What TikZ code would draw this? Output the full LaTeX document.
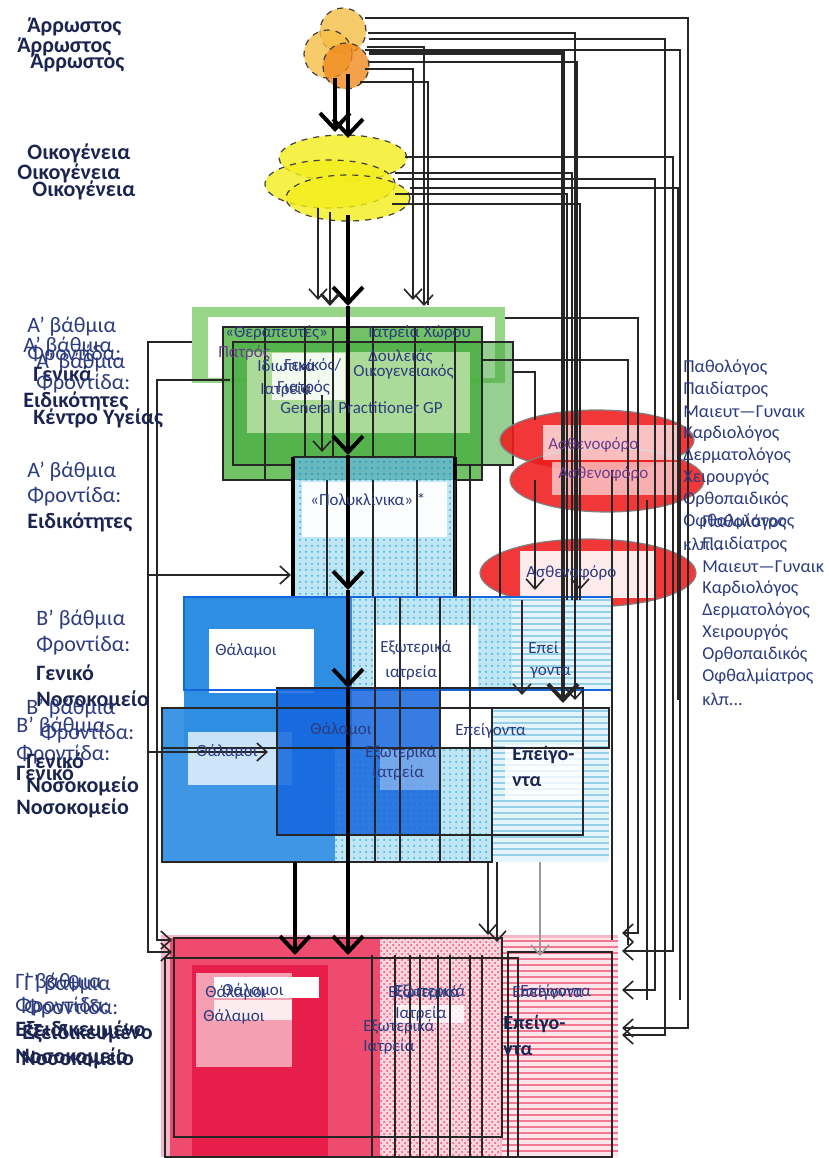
\documentclass[tikz,border=0pt]{standalone}
\usepackage{fontspec}
\setmainfont{Carlito}
\usetikzlibrary{arrows.meta,patterns,shapes.geometric}
\definecolor{navy}{HTML}{1B2550}
\definecolor{txtb}{HTML}{2D3C7E}
\definecolor{purp}{HTML}{6A3C8C}
\definecolor{orlite}{HTML}{F7BE45}
\definecolor{ordark}{HTML}{F08A1E}
\definecolor{yel}{HTML}{F4EE1C}
\definecolor{glite}{HTML}{8CD27A}
\definecolor{gmid}{HTML}{58B84A}
\definecolor{gdark}{HTML}{3EA83A}
\definecolor{gpale}{HTML}{B5E0A2}
\definecolor{bmid}{HTML}{2E8EE2}
\definecolor{bdark}{HTML}{1366DE}
\definecolor{blite}{HTML}{BFE6F5}
\definecolor{bdot}{HTML}{3FA9DA}
\definecolor{redel}{HTML}{F01C1C}
\definecolor{pinklt}{HTML}{F6B8C8}
\definecolor{pinkmd}{HTML}{EE4B6E}
\definecolor{crim}{HTML}{E81E4A}
\begin{document}
\begin{tikzpicture}[x=0.5pt,y=-0.5pt,
  lab/.style={anchor=west,inner sep=0pt,font=\fontsize{11}{13}\selectfont,text=txtb},
  labb/.style={anchor=west,inner sep=0pt,font=\fontsize{11}{13}\selectfont\bfseries,text=navy},
  lst/.style={anchor=west,inner sep=0pt,font=\fontsize{9.1}{11}\selectfont,text=txtb},
  inn/.style={anchor=west,inner sep=0pt,font=\fontsize{8.5}{10}\selectfont,text=txtb},
  innb/.style={anchor=west,inner sep=0pt,font=\fontsize{10}{12}\selectfont\bfseries,text=navy},
  ln/.style={draw=black!85,line width=0.8pt},
  lnl/.style={draw=black!40,line width=0.8pt},
  tk/.style={draw=black,line width=2.4pt},
  hv/.style={draw=black,line width=1.6pt},
  ar/.style={-{Straight Barb[length=5pt,width=9pt]}},
  ark/.style={-{Straight Barb[length=8pt,width=15pt,line width=2pt]}},
  circ/.style={circle,draw=black!75,dashed,line width=0.6pt,fill opacity=0.8,inner sep=0pt},
  ell/.style={ellipse,draw=black!75,dashed,line width=0.6pt,fill=yel,fill opacity=0.8,inner sep=0pt},
  rell/.style={ellipse,draw=black!50,line width=0.6pt,fill=redel,fill opacity=0.88,inner sep=0pt},
  frm/.style={draw=black!85,line width=0.9pt},
  bstripe/.style={draw=bdot!55,line width=0.7pt},
  pstripe/.style={draw=pinkmd!75,line width=0.8pt}
]
\useasboundingbox (0,0) rectangle (829,1158);
\fill[white] (0,0) rectangle (829,1158);

% ---------------- shapes: patient circles and family ellipses
\node[circ,fill=orlite,minimum size=23pt] (c1) at (343,31) {};
\node[circ,fill=orlite,minimum size=24pt] (c2) at (328,54) {};
\node[circ,fill=ordark,minimum size=23pt] (c3) at (346,66) {};
\node[ell,minimum width=64pt,minimum height=23pt] (y1) at (343,158) {};
\node[ell,minimum width=65pt,minimum height=24pt] (y2) at (330,184) {};
\node[ell,minimum width=62pt,minimum height=23pt] (y3) at (348,198) {};

% ---------------- green (primary care)
\fill[glite,opacity=0.9] (192,307) rectangle (505,383);
\fill[white] (208,317) rectangle (495,378);
\fill[gmid,opacity=0.85] (223,327) rectangle (482,480);
\fill[gdark,opacity=0.55] (233,342) rectangle (513,465);
\fill[gpale,opacity=0.9] (247,352) rectangle (470,433);
\fill[white,opacity=0.85] (272,353) rectangle (345,400);
\draw[frm] (223,327) rectangle (482,480);
\draw[frm] (233,342) rectangle (513,465);
\foreach \xx in {265,305,333,373,415,455} \draw[ln] (\xx,327) -- (\xx,480);

% ---------------- polyclinics
\path[preaction={fill=blite},pattern=dots,pattern color=bdot] (293,457) rectangle (455,608);
\fill[teal,opacity=0.45] (293,457) rectangle (455,480);
\fill[white,opacity=0.95] (302,482) rectangle (447,537);
\foreach \xx in {327,373,417} \draw[ln] (\xx,480) -- (\xx,608);
\draw[hv] (293,457) -- (293,608);
\draw[hv] (455,457) -- (455,608);
\draw[frm] (293,457) -- (455,457);

% ---------------- ambulances
\node[rell,minimum width=97pt,minimum height=30pt] (r1) at (597,440) {};
\node[rell,minimum width=97pt,minimum height=32pt] (r2) at (607,480) {};
\node[rell,minimum width=108pt,minimum height=34pt] (r3) at (588,573) {};
\fill[white,opacity=0.7] (543,425) rectangle (680,460);
\fill[white,opacity=0.6] (552,462) rectangle (680,495);
\fill[white,opacity=0.9] (520,551) rectangle (655,598);

% ---------------- blue (secondary care), layer 1
\fill[bmid] (184,597) rectangle (352,750);
\path[preaction={fill=blite},pattern=dots,pattern color=bdot] (352,597) rectangle (512,690);
\fill[blite!40] (512,597) rectangle (612,690);
\foreach \yy in {600,606,...,688} \draw[bstripe] (512,\yy) -- (612,\yy);
\fill[white] (209,629) rectangle (314,693);
\fill[white] (373,625) rectangle (478,699);
% layer 2
\fill[bmid,opacity=0.92] (162,708) rectangle (335,862);
\path[preaction={fill=blite},pattern=dots,pattern color=bdot] (335,748) rectangle (492,862);
\fill[blite!40] (492,708) rectangle (609,862);
\foreach \yy in {711,717,...,860} \draw[bstripe] (492,\yy) -- (609,\yy);
\fill[white,opacity=0.75] (188,732) rectangle (292,785);
\fill[bdark,opacity=0.85] (277,688) rectangle (441,835);
\fill[white,opacity=0.35] (380,748) rectangle (441,790);
\fill[white,opacity=0.8] (505,745) rectangle (583,800);
\draw[frm] (277,688) rectangle (583,835);
\draw[frm] (162,708) rectangle (609,748);
\draw[frm] (162,708) rectangle (492,862);
\draw[draw=bdark,line width=0.9pt] (184,597) rectangle (612,690);
\foreach \xx in {375,400,440,470} \draw[ln] (\xx,597) -- (\xx,862);

% ---------------- pink (tertiary care)
\fill[pinklt] (161,935) rectangle (618,1157);
\fill[pinkmd] (170,938) rectangle (380,1157);
\fill[crim] (192,965) rectangle (328,1157);
\path[preaction={fill=pinklt!60},pattern=crosshatch dots,pattern color=pinkmd] (380,938) rectangle (500,1157);
\fill[pinklt!35] (502,938) rectangle (618,1157);
\foreach \yy in {941,947,...,1156} \draw[pstripe] (502,\yy) -- (618,\yy);
\fill[pinkmd!40,opacity=0.85] (196,973) rectangle (292,1067);
\fill[white] (214,977) rectangle (319,998);
\fill[white,opacity=0.8] (214,1000) rectangle (292,1020);
\fill[white,opacity=0.8] (393,1005) rectangle (464,1023);
\draw[frm] (174,938) rectangle (502,1137);
\draw[frm] (165,958) rectangle (518,1157);
\draw[frm] (508,952) rectangle (612,1157);
\foreach \xx in {372,395,410,420,438,450,470,482} \draw[ln] (\xx,955) -- (\xx,1157);

% ---------------- connectors
\coordinate (pk) at (348,955);
\draw[tk,ark] (348,74) -- (348,138);
\draw[tk,ark] (335,78) -- (335,132);
\draw[tk,ark] (348,215) -- (348,306);
\draw[tk,ark] (348,306) -- (348,455);
\draw[tk,ark] (348,455) -- (348,590);
\draw[tk,ark] (348,590) -- (348,688);
\draw[tk,ark] (348,688) -- (pk);
\draw[ln,ar] (318,208) -- (318,300);
\draw[ln,line width=1.4pt,ar] (330,212) -- (330,306);
\draw[ln,ar] (322,395) -- (322,452);
\draw[tk,ark] (295,862) -- (295,955);
\draw[ln,ar] (488,862) -- (488,935);
\draw[ln,ar] (497,862) -- (497,942);
\draw[lnl,ar] (540,862) -- (540,956);

% from patients to the right
\draw[ln,ar] (365,18) -| (688,1028) -- (622,1028);
\draw[ln,ar] (368,33) -| (575,700);
\draw[ln,ar] (369,39) -| (665,1035) -- (622,1035);
\draw[ln,ar] (367,47) -| (424,306);
\draw[ln,line width=2pt,ark] (369,53) -| (563,703);
\draw[ln] (369,62) -| (577,600);
\draw[ln,ar] (365,69) -| (413,300);
\draw[ln] (360,82) -| (428,305);
\draw[ln] (365,50) -| (680,1000);
% from family to the right
\draw[ln,ar] (405,157) -| (673,951) -- (622,951);
\draw[ln] (395,173) -| (572,600);
\draw[ln,ar] (398,179) -| (655,990) -- (622,990);
\draw[ln] (410,188) -| (678,700);
\draw[ln] (395,194) -| (567,600);
\draw[ln] (392,204) -| (580,600);
% from green to the right
\draw[ln,ar] (505,318) -| (638,933) -- (622,933);
\draw[ln] (482,360) -| (628,945);
\draw[ln] (513,372) -| (535,420);
\draw[ln,ar] (535,480) -- (535,590);
\draw[ln,ar] (580,490) -- (580,590);
\draw[ln,ar] (522,600) -- (522,695);
\draw[ln] (455,480) -- (455,597);
\draw[ln] (470,465) -- (470,597);
\draw[ln] (500,465) -- (500,597);
\draw[ln] (612,470) -- (612,940);
\draw[ln] (647,500) -- (647,1000);
% left side
\draw[ln,ar] (192,342) -| (148,952) -- (172,952);
\draw[ln,ar] (230,380) -| (157,940) -- (172,940);
\draw[ln,ar] (148,575) -- (291,575);
\draw[ln,ar] (148,752) -- (268,752);

% ---------------- left labels
\node[labb] (a1) at (27,27) {Άρρωστος};
\node[labb] (a2) at (17,47) {Άρρωστος};
\node[labb] (a3) at (30,63) {Άρρωστος};
\node[labb] (o1) at (27,153) {Οικογένεια};
\node[labb] (o2) at (17,173) {Οικογένεια};
\node[labb] (o3) at (32,190) {Οικογένεια};

\node[lab] (g1) at (27,327) {Α' βάθμια};
\node[lab] (g2) at (23,347) {Α' βάθμια};
\node[lab] (g3) at (27,355) {Φροντίδα:};
\node[lab] (g4) at (36,363) {Α' βάθμια};
\node[labb] (g5) at (33,374) {Γενικά};
\node[lab] (g6) at (36,384) {Φροντίδα:};
\node[labb] (g7) at (23,401) {Ειδικότητες};
\node[labb] (g8) at (33,418) {Κέντρο Υγείας};

\node[lab] (e1) at (27,472) {Α' βάθμια};
\node[lab] (e2) at (27,497) {Φροντίδα:};
\node[labb] (e3) at (27,522) {Ειδικότητες};

\node[lab] (b1) at (36,620) {Β' βάθμια};
\node[lab] (b2) at (36,646) {Φροντίδα:};
\node[labb] (b3) at (36,673) {Γενικό};
\node[labb] (b4) at (36,700) {Νοσοκομείο};
\node[lab] (b5) at (26,709) {Β' βάθμια};
\node[lab] (b6) at (16,727) {Β' βάθμια};
\node[lab] (b7) at (40,734) {Φροντίδα:};
\node[lab] (b8) at (16,755) {Φροντίδα:};
\node[labb] (b9) at (26,761) {Γενικό};
\node[labb] (b10) at (16,773) {Γενικό};
\node[labb] (b11) at (26,786) {Νοσοκομείο};
\node[labb] (b12) at (16,808) {Νοσοκομείο};

\node[lab] (t1) at (15,983) {Γ' βάθμια};
\node[lab] (t2) at (24,985) {Γ' βάθμια};
\node[lab] (t3) at (15,1007) {Φροντίδα:};
\node[lab] (t4) at (24,1009) {Φροντίδα:};
\node[labb] (t5) at (15,1030) {Εξειδικευμένο};
\node[labb] (t6) at (22,1033) {Εξειδικευμένο};
\node[labb] (t7) at (15,1057) {Νοσοκομείο};
\node[labb] (t8) at (21,1059) {Νοσοκομείο};

% ---------------- right lists
\foreach \t [count=\i] in {Παθολόγος,Παιδίατρος,Μαιευτ—Γυναικ,Καρδιολόγος,Δερματολόγος,Χειρουργός,Ορθοπαιδικός,Οφθαλμίατρος}{
  \node[lst] (la\i) at (683,{368+22*(\i-1)}) {\t};
  \node[lst] (lb\i) at (702,{523+22*(\i-1)}) {\t};
}
\node[lst] (la9) at (683,544) {κλπ...};
\node[lst] (lb9) at (702,699) {κλπ...};

% ---------------- inner texts
\node[inn] (n1) at (225,333) {«Θεραπευτές»};
\node[inn] (n2) at (368,333) {Ιατρεία Χώρου};
\node[inn,text=purp] (n3) at (218,353) {Πατρός};
\node[inn] (n4) at (368,357) {Δουλειάς};
\node[inn] (n5) at (257,366) {Ιδιωτικά};
\node[inn] (n6) at (284,366) {Γενικός/};
\node[inn] (n7) at (353,372) {Οικογενειακός};
\node[inn] (n8) at (260,390) {Ιατρεία};
\node[inn] (n9) at (277,388) {Γιατρός};
\node[inn] (n10) at (280,408) {General Practitioner GP};
\node[inn] (n11) at (310,500) {«Πολυκλίνικα» *};
\node[inn,text=purp] (n12) at (548,445) {Ασθενοφόρο};
\node[inn,text=purp] (n13) at (558,474) {Ασθενοφόρο};
\node[inn] (n14) at (526,573) {Ασθενοφόρο};

\node[inn] (n15) at (215,651) {Θάλαμοι};
\node[inn] (n16) at (380,648) {Εξωτερικά};
\node[inn] (n17) at (385,673) {ιατρεία};
\node[inn] (n18) at (528,648) {Επεί};
\node[inn] (n19) at (530,673) {γοντα};
\node[inn] (n20) at (196,752) {Θάλαμοι};
\node[inn] (n21) at (310,730) {Θάλαμοι};
\node[inn] (n22) at (455,731) {Επείγοντα};
\node[inn] (n23) at (365,753) {Εξωτερικά};
\node[inn] (n24) at (372,773) {ιατρεία};
\node[innb] (n25) at (512,755) {Επείγο-};
\node[innb] (n26) at (512,782) {ντα};

\node[inn] (p1) at (205,993) {Θάλαμοι};
\node[inn] (p2) at (222,991) {Θάλαμοι};
\node[inn] (p3) at (203,1017) {Θάλαμοι};
\node[inn] (p4) at (388,993) {Εξωτερικά};
\node[inn] (p5) at (394,992) {Εξωτερικά};
\node[inn] (p6) at (395,1014) {Ιατρεία};
\node[inn] (p7) at (363,1027) {Εξωτερικά};
\node[inn] (p8) at (363,1047) {Ιατρεία};
\node[inn] (p9) at (512,993) {Επείγοντα};
\node[inn] (p10) at (520,992) {Επείγοντα};
\node[innb] (p11) at (503,1024) {Επείγο-};
\node[innb] (p12) at (503,1051) {ντα};
\end{tikzpicture}
\end{document}
